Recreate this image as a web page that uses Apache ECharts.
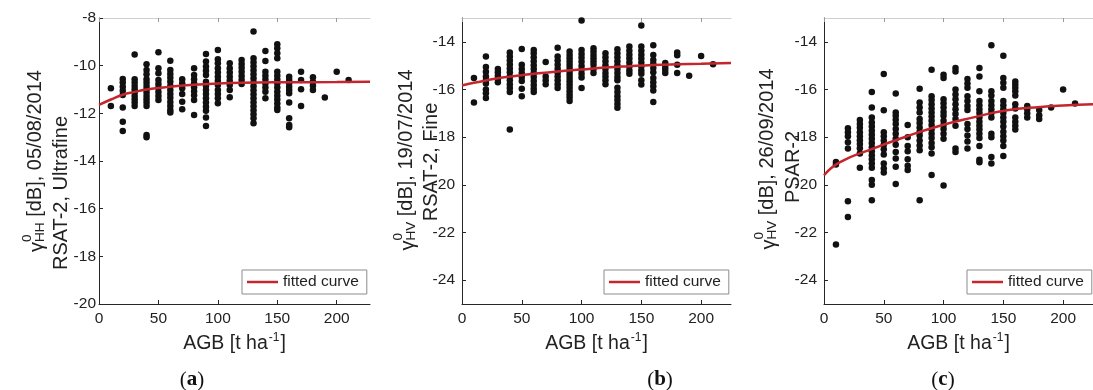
<!DOCTYPE html>
<html>
<head>
<meta charset="utf-8">
<script src="https://cdn.jsdelivr.net/npm/echarts@6/dist/echarts.min.js"></script>
<style>
html,body{margin:0;padding:0;background:#fff;}
#chart{width:1093px;height:390px;}
</style>
</head>
<body>
<div id="chart"></div>
<script>
// ---------- DATA ----------
const agbClasses = [10,20,30,40,50,60,70,80,90,100,110,120,130,140,150,160,170,180,190,200,210];
const xTicks = [0,50,100,150,200];

// (a) RSAT-2 Ultrafine HH, 05/08/2014
const aGammaHH = [
  [-10.95,-11.69],
  [-10.56,-10.71,-10.88,-11.05,-11.23,-11.75,-12.35,-12.74],
  [-9.53,-10.57,-10.71,-10.85,-10.99,-11.13,-11.27,-11.41,-11.55,-11.69],
  [-9.94,-10.18,-10.36,-10.57,-10.71,-10.85,-10.99,-11.13,-11.27,-11.41,-11.55,-11.69,-12.91,-13.0],
  [-9.44,-10.11,-10.32,-10.6,-10.77,-10.93,-11.1,-11.27,-11.44],
  [-9.79,-10.18,-10.35,-10.51,-10.68,-10.85,-11.02,-11.19,-11.35,-11.52,-11.69,-11.86,-11.97],
  [-10.57,-10.74,-10.95,-11.19,-11.51,-11.83],
  [-10.11,-10.39,-10.57,-10.74,-10.91,-11.07,-11.24,-11.44,-12.07],
  [-9.51,-9.83,-10.04,-10.21,-10.39,-10.67,-10.85,-11.02,-11.19,-11.37,-11.55,-11.72,-11.89,-12.17,-12.53],
  [-9.34,-9.73,-9.9,-10.11,-10.29,-10.46,-10.63,-10.81,-11.02,-11.19,-11.37,-11.58],
  [-9.9,-10.11,-10.29,-10.46,-10.63,-10.81,-11.02,-11.33],
  [-9.76,-9.93,-10.09,-10.26,-10.43,-10.6,-10.77],
  [-8.57,-9.69,-9.86,-10.02,-10.19,-10.36,-10.53,-10.7,-10.86,-11.03,-11.2,-11.37,-11.54,-11.7,-11.87,-12.04,-12.21,-12.42],
  [-9.38,-9.8,-10.25,-10.42,-10.58,-10.75,-10.92,-11.09,-11.37],
  [-9.1,-9.27,-9.48,-9.69,-10.25,-10.42,-10.58,-10.75,-10.92,-11.09,-11.26,-11.42,-11.59,-11.76,-11.86],
  [-10.46,-10.6,-10.74,-10.88,-11.02,-11.16,-11.55,-12.21,-12.49,-12.58],
  [-10.25,-10.6,-10.99,-11.69],
  [-10.49,-10.67,-10.84,-11.02],
  [-11.34],
  [-10.25],
  [-10.6]
];
const aFitAgb = [0,10,20,30,40,50,60,80,100,120,150,200,228];
const aFitDb  = [-11.65,-11.42,-11.22,-11.1,-11.0,-10.94,-10.88,-10.8,-10.75,-10.72,-10.7,-10.69,-10.68];

// (b) RSAT-2 Fine HV, 19/07/2014
const bGammaHV = [
  [-15.52,-16.55],
  [-14.62,-15.06,-15.25,-15.45,-15.61,-15.75,-16.0,-16.16,-16.36],
  [-15.14,-15.28,-15.42,-15.56,-15.7],
  [-14.45,-14.62,-14.78,-14.95,-15.12,-15.28,-15.45,-15.61,-15.78,-15.94,-16.11,-17.68],
  [-14.3,-14.96,-15.14,-15.31,-15.48,-15.64,-15.97,-16.28],
  [-14.34,-14.48,-14.65,-14.81,-14.98,-15.14,-15.31,-15.48,-15.64,-15.81,-15.97,-16.11],
  [-14.85,-15.45,-15.61,-15.78],
  [-14.25,-14.62,-14.78,-14.96,-15.13,-15.3,-15.45,-15.61,-15.78,-15.94],
  [-14.41,-14.55,-14.69,-14.83,-14.96,-15.1,-15.24,-15.38,-15.52,-15.65,-15.79,-15.93,-16.07,-16.21,-16.34,-16.48],
  [-13.1,-14.34,-14.51,-14.67,-14.84,-15.01,-15.17,-15.34,-15.5,-15.94],
  [-14.27,-14.41,-14.55,-14.69,-14.83,-14.96,-15.14,-15.31],
  [-14.48,-14.65,-14.81,-14.98,-15.14,-15.31,-15.45,-15.61,-15.78],
  [-14.31,-14.48,-14.65,-14.81,-14.98,-15.14,-15.31,-15.48,-15.61,-15.93,-16.11,-16.28,-16.44,-16.61,-16.77],
  [-14.2,-14.37,-14.54,-14.7,-14.87,-15.03,-15.2,-15.34],
  [-13.31,-14.2,-14.37,-14.54,-14.7,-14.87,-15.03,-15.2,-15.34,-15.61,-15.79],
  [-14.14,-14.55,-14.76,-14.92,-15.1,-15.28,-15.52,-15.7,-15.86,-16.04,-16.52],
  [-14.89,-15.06,-15.17,-15.31],
  [-14.45,-14.56,-14.96,-15.31],
  [-15.42],
  [-14.59],
  [-14.94]
];
const bFitAgb = [0,10,20,30,40,50,60,80,100,120,140,160,180,200,225];
const bFitDb  = [-15.83,-15.72,-15.62,-15.53,-15.46,-15.4,-15.34,-15.24,-15.16,-15.08,-15.02,-14.97,-14.94,-14.92,-14.89];

// (c) PSAR-2 HV, 26/09/2014
const cGammaHV = [
  [-19.04,-19.15,-22.5],
  [-17.63,-17.79,-17.96,-18.21,-18.48,-20.69,-21.35],
  [-17.28,-17.45,-17.61,-17.79,-17.96,-18.13,-18.29,-18.46,-18.69,-19.28],
  [-16.11,-16.76,-17.17,-17.38,-17.55,-17.73,-17.9,-18.07,-18.24,-18.42,-18.59,-18.76,-18.93,-19.11,-19.28,-19.8,-20.0,-20.65],
  [-15.35,-16.87,-17.79,-17.96,-18.14,-18.32,-18.51,-18.73,-19.11,-19.31,-19.48],
  [-16.17,-16.97,-17.1,-17.27,-17.45,-17.66,-17.86,-18.07,-18.32,-18.62,-18.9,-19.24,-19.96],
  [-17.49,-18.0,-18.37,-18.59,-18.93,-19.2,-19.38],
  [-15.97,-16.55,-16.76,-16.97,-17.24,-17.41,-17.59,-17.77,-17.93,-18.14,-18.35,-18.55,-20.65],
  [-15.17,-16.28,-16.44,-16.62,-16.8,-16.97,-17.13,-17.31,-17.49,-17.68,-17.86,-18.04,-18.24,-18.42,-18.69,-19.59],
  [-15.38,-15.52,-16.41,-16.58,-16.76,-16.94,-17.1,-17.31,-17.49,-17.66,-17.86,-18.07,-20.03],
  [-15.1,-15.24,-16.0,-16.21,-16.41,-16.62,-16.83,-17.03,-17.24,-17.52,-18.48,-18.62],
  [-15.56,-15.75,-15.93,-16.28,-16.48,-16.69,-16.86,-17.45,-17.66,-17.93,-18.18,-18.48],
  [-15.1,-15.45,-16.07,-16.48,-16.66,-16.83,-16.99,-17.17,-17.35,-17.52,-17.68,-17.86,-18.04,-18.37,-18.95,-19.05],
  [-14.14,-16.07,-16.25,-16.48,-16.66,-16.83,-16.99,-17.17,-17.86,-18.0,-18.83,-19.11],
  [-14.58,-15.52,-15.72,-15.93,-16.48,-16.66,-16.83,-16.99,-17.17,-17.35,-17.55,-17.77,-17.96,-18.14,-18.37,-18.79],
  [-15.66,-15.79,-15.93,-16.07,-16.25,-16.62,-16.8,-17.17,-17.35,-17.52,-17.68],
  [-16.69,-16.83,-17.0,-17.17],
  [-16.86,-17.08,-17.24],
  [-16.76],
  [-16.0],
  [-16.59]
];
const cFitAgb = [0,13,41,69,97,125,153,181,200,225];
const cFitDb  = [-19.6,-19.06,-18.48,-17.97,-17.52,-17.17,-16.87,-16.73,-16.67,-16.62];

const yTicksA = [-20,-18,-16,-14,-12,-10,-8];
const yTicksBC = [-24,-22,-20,-18,-16,-14];

// ---------- BUILD ----------
function flatten(cols) {
  const out = [];
  cols.forEach((ys, i) => ys.forEach(y => out.push([agbClasses[i], y])));
  return out;
}
function pairs(xs, ys) { return xs.map((x, i) => [x, ys[i]]); }

const FONT = '"Liberation Sans", Arial, sans-serif';
const TXT = '#222';
const panels = [
  {left: 99, width: 271, xmax: 228, ymin: -20, ymax: -8, yTicks: yTicksA, labelMargin: 3,
   pts: flatten(aGammaHH), fit: pairs(aFitAgb, aFitDb), legendLeft: 242,
   t1: {cx: 35, cy: 161, sub: 'HH', rest: ' [dB], 05/08/2014'}, t2: {cx: 61, cy: 193, text: 'RSAT-2, Ultrafine'},
   tag: {x: 192, letter: 'a'}},
  {left: 462, width: 269, xmax: 225, ymin: -25, ymax: -13, yTicks: yTicksBC, labelMargin: 7,
   pts: flatten(bGammaHV), fit: pairs(bFitAgb, bFitDb), legendLeft: 604,
   t1: {cx: 406, cy: 160, sub: 'HV', rest: ' [dB], 19/07/2014'}, t2: {cx: 431, cy: 162, text: 'RSAT-2, Fine'},
   tag: {x: 660, letter: 'b'}},
  {left: 824, width: 269, xmax: 225, ymin: -25, ymax: -13, yTicks: yTicksBC, labelMargin: 7,
   pts: flatten(cGammaHV), fit: pairs(cFitAgb, cFitDb), legendLeft: 967,
   t1: {cx: 767, cy: 159, sub: 'HV', rest: ' [dB], 26/09/2014'}, t2: {cx: 793, cy: 167, text: 'PSAR-2'},
   tag: {x: 943, letter: 'c'}}
];

const ctx = document.createElement('canvas').getContext('2d');
function measure(t, size) { ctx.font = size + 'px "Liberation Sans"'; return ctx.measureText(t).width; }

const grid = [], xAxis = [], yAxis = [], series = [], legend = [], graphic = [];
panels.forEach((p, i) => {
  grid.push({left: p.left, top: 18, width: p.width, height: 286, containLabel: false});
  xAxis.push({
    type: 'value', gridIndex: i, min: 0, max: p.xmax, position: 'bottom',
    axisLine: {show: true, onZero: false, lineStyle: {color: '#262626', width: 1}},
    axisTick: {show: true, inside: true, length: 4, customValues: xTicks, lineStyle: {color: '#262626'}},
    axisLabel: {customValues: xTicks, fontSize: 15.5, color: TXT, margin: 7, fontFamily: FONT},
    splitLine: {show: false},
    name: '{t|AGB [t ha}{s|-1}{t|]}', nameLocation: 'middle', nameGap: 28,
    nameTextStyle: {rich: {
      t: {fontSize: 19.5, fontFamily: FONT, color: TXT, lineHeight: 22, verticalAlign: 'bottom'},
      s: {fontSize: 12, fontFamily: FONT, color: TXT, lineHeight: 22, verticalAlign: 'top', padding: [0, 1, 9, 1]}
    }}
  });
  xAxis.push({
    type: 'value', gridIndex: i, min: 0, max: p.xmax, position: 'top',
    axisLine: {show: true, onZero: false, lineStyle: {color: '#cfcfcf', width: 1}},
    axisTick: {show: true, inside: true, length: 4, customValues: xTicks, lineStyle: {color: '#9a9a9a'}},
    axisLabel: {show: false}, splitLine: {show: false}
  });
  yAxis.push({
    type: 'value', gridIndex: i, min: p.ymin, max: p.ymax,
    axisLine: {show: true, onZero: false, lineStyle: {color: '#262626', width: 1}},
    axisTick: {show: true, inside: true, length: 4, customValues: p.yTicks, lineStyle: {color: '#262626'}},
    axisLabel: {customValues: p.yTicks, fontSize: 15.5, color: TXT, margin: p.labelMargin, fontFamily: FONT},
    splitLine: {show: false}
  });
  series.push({
    type: 'scatter', name: 'data' + i, xAxisIndex: 2 * i, yAxisIndex: i,
    data: p.pts, symbol: 'circle', symbolSize: 6.5, itemStyle: {color: '#111', opacity: 1}, z: 2
  });
  series.push({
    type: 'line', name: 'fitted curve', xAxisIndex: 2 * i, yAxisIndex: i,
    data: p.fit, smooth: true, symbol: 'none', showSymbol: false,
    lineStyle: {color: '#c4262e', width: 2.5}, itemStyle: {color: '#c4262e'}, z: 3
  });
  legend.push({
    data: ['fitted curve'], left: p.legendLeft, top: 270, orient: 'horizontal',
    icon: 'rect', itemWidth: 31, itemHeight: 2.5, selectedMode: false,
    padding: [4, 8, 4, 5], borderColor: '#8c8c8c', borderWidth: 1, backgroundColor: '#fff',
    textStyle: {fontSize: 15.5, color: TXT, fontFamily: FONT}
  });

  // y titles
  const big = 20, small = 13.5;
  const wG = measure('\u03B3', big);
  const wS = Math.max(measure(p.t1.sub, small), measure('0', small));
  const wR = measure(p.t1.rest, big);
  const x0 = -(wG + wS + wR) / 2;
  const ts = (txt, size) => ({text: txt, fontSize: size, fontFamily: FONT, fill: TXT,
    align: 'left', verticalAlign: 'middle', textAlign: 'left', textVerticalAlign: 'middle'});
  graphic.push({
    type: 'group', x: p.t1.cx, y: p.t1.cy, rotation: Math.PI / 2,
    children: [
      {type: 'text', x: x0, y: 2, style: ts('\u03B3', big)},
      {type: 'text', x: x0 + wG, y: -8, style: ts('0', small)},
      {type: 'text', x: x0 + wG, y: 5, style: ts(p.t1.sub, small)},
      {type: 'text', x: x0 + wG + wS, y: 0, style: ts(p.t1.rest, big)}
    ]
  });
  graphic.push({
    type: 'text', x: p.t2.cx, y: p.t2.cy, rotation: Math.PI / 2,
    style: {text: p.t2.text, fontSize: big, fontFamily: FONT, fill: TXT,
      align: 'center', verticalAlign: 'middle', textAlign: 'center', textVerticalAlign: 'middle'}
  });
  graphic.push({
    type: 'text', x: p.tag.x, y: 380,
    style: {text: '({b|' + p.tag.letter + '})', fontSize: 21, fontFamily: '"Liberation Serif", serif', fill: '#111',
      align: 'center', verticalAlign: 'middle', textAlign: 'center', textVerticalAlign: 'middle',
      rich: {b: {fontSize: 21, fontFamily: '"Liberation Serif", serif', fontWeight: 'bold', fill: '#111', color: '#111'}}}
  });
});

const chart = echarts.init(document.getElementById('chart'), null, {renderer: 'canvas'});
chart.setOption({
  animation: false,
  backgroundColor: '#fff',
  grid, xAxis, yAxis, series, legend, graphic
});
</script>
</body>
</html>
